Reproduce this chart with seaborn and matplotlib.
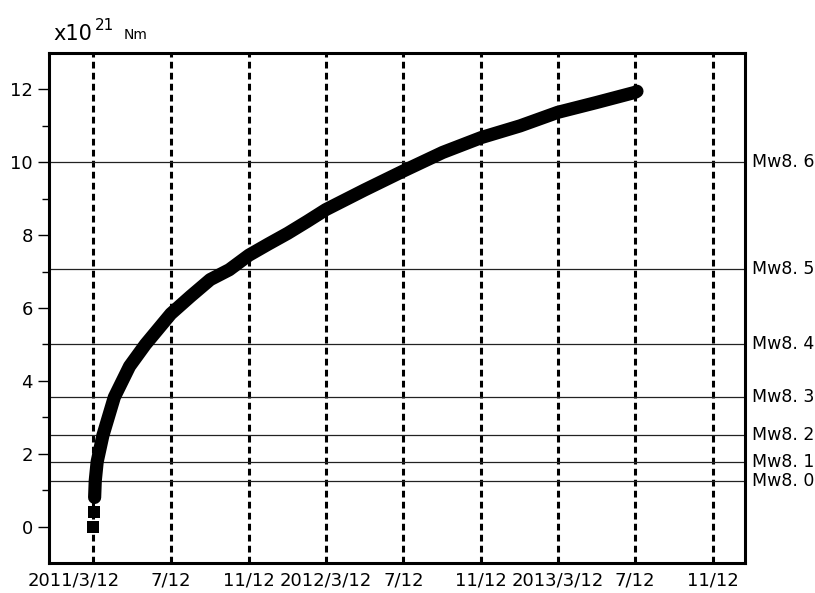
import pandas as pd
import numpy as np
import matplotlib
matplotlib.use("Agg")
import matplotlib.pyplot as plt
import matplotlib.transforms as mtransforms
import seaborn as sns

# cumulative moment release (x10^21 Nm)
dates = ["2011-03-12", "2011-03-13", "2011-03-14", "2011-03-15", "2011-03-18",
         "2011-03-27", "2011-04-14", "2011-05-08", "2011-06-02", "2011-07-12",
         "2011-08-12", "2011-09-12", "2011-10-12", "2011-11-12", "2011-12-12",
         "2012-01-12", "2012-02-12", "2012-03-12", "2012-05-12", "2012-07-12",
         "2012-09-12", "2012-11-12", "2013-01-12", "2013-03-12", "2013-05-12",
         "2013-07-12", "2013-07-15"]
moment = [0.0, 0.4, 0.8, 1.26, 1.78,
          2.5, 3.55, 4.4, 5.0, 5.84,
          6.32, 6.78, 7.05, 7.45, 7.75,
          8.05, 8.38, 8.70, 9.24, 9.76,
          10.27, 10.68, 11.0, 11.37, 11.64,
          11.92, 11.95]

# reference magnitude levels
mw_labels = ["Mw8. 0", "Mw8. 1", "Mw8. 2", "Mw8. 3", "Mw8. 4", "Mw8. 5", "Mw8. 6"]
mw_values = [1.26, 1.78, 2.51, 3.55, 5.01, 7.08, 10.0]

tick_dates = ["2011-03-12", "2011-07-12", "2011-11-12", "2012-03-12", "2012-07-12",
              "2012-11-12", "2013-03-12", "2013-07-12", "2013-11-12"]
tick_labels = ["2011/3/12", "7/12", "11/12", "2012/3/12", "7/12",
               "11/12", "2013/3/12", "7/12", "11/12"]

df = pd.DataFrame({"date": pd.to_datetime(dates), "m0": moment})

sns.set_style("ticks")
plt.rcParams["font.family"] = ["DejaVu Sans"]
plt.rcParams["text.color"] = "black"
plt.rcParams["xtick.color"] = "black"
plt.rcParams["ytick.color"] = "black"

fig = plt.figure(figsize=(8.15, 5.93), dpi=100)
ax = fig.add_axes([0.060, 0.0506, 0.854, 0.860])

# dashed date lines and magnitude levels
for d in pd.to_datetime(tick_dates):
    ax.axvline(d, color="black", lw=2.2, ls=(0, (2.2, 1.4)), zorder=1)
for lab, v in zip(mw_labels, mw_values):
    ax.axhline(v, color="#222222", lw=0.9, zorder=1)
    ax.text(1.01, v, lab, transform=ax.get_yaxis_transform(),
            va="center", ha="left", fontsize=12.5, clip_on=False)

# first two days as separate squares, then the thick curve
sns.scatterplot(x="date", y="m0", data=df.iloc[:2], marker="s", s=75,
                color="black", edgecolor="none", ax=ax, zorder=3)
sns.lineplot(x="date", y="m0", data=df.iloc[2:], color="black", linewidth=9.5,
             solid_capstyle="round", solid_joinstyle="round", ax=ax, zorder=3)

ax.set_xlim(pd.Timestamp("2011-01-01"), pd.Timestamp("2014-01-01"))
ax.set_ylim(-1, 13)
ax.set_xticks(pd.to_datetime(tick_dates))
ax.set_xticklabels(tick_labels, fontsize=13)
ax.set_yticks(np.arange(0, 13, 2))
ax.set_yticks(np.arange(1, 13, 2), minor=True)
ax.tick_params(axis="y", which="major", length=8, width=1, labelsize=13, direction="out")
ax.tick_params(axis="y", which="minor", length=5, width=1, direction="out")
ax.tick_params(axis="x", length=0, pad=6)
ax.set_xlabel("")
ax.set_ylabel("")
for sp in ax.spines.values():
    sp.set_visible(True)
    sp.set_linewidth(2.2)
    sp.set_color("black")

# nudge the first date label left as in the reference
lbl0 = ax.get_xticklabels()[0]
lbl0.set_transform(lbl0.get_transform() + mtransforms.ScaledTranslation(-0.2, 0, fig.dpi_scale_trans))

# unit label
fig.text(0.065, 0.9325, "x10", fontsize=15, va="baseline")
fig.text(0.117, 0.949, "21", fontsize=11, va="baseline")
fig.text(0.152, 0.934, "Nm", fontsize=10, va="baseline")

fig.savefig("out.png", dpi=100)
